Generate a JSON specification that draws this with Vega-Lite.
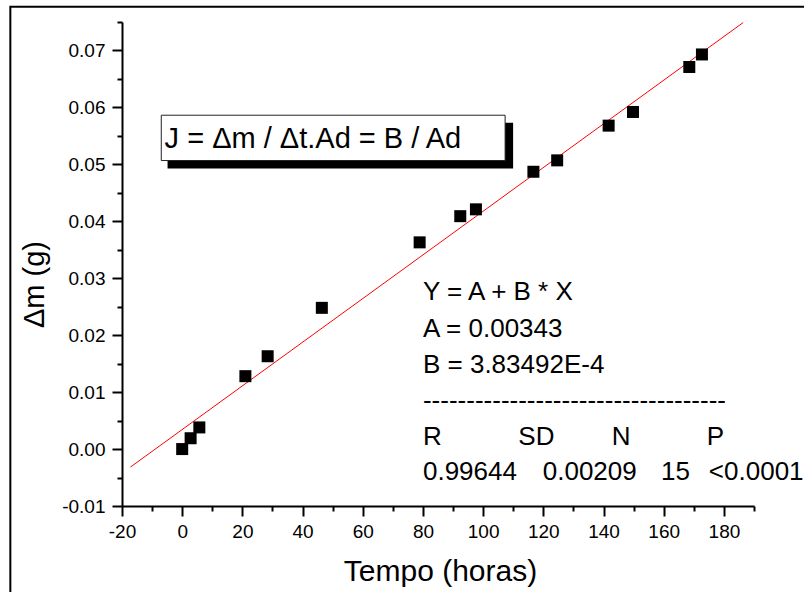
{
  "$schema": "https://vega.github.io/schema/vega-lite/v6.json",
  "width": 632,
  "height": 484,
  "autosize": {"type": "none"},
  "padding": {"left": 122, "top": 22, "right": 50, "bottom": 86},
  "background": "white",
  "config": {
    "view": {"stroke": null},
    "font": "Liberation Sans",
    "text": {"font": "Liberation Sans"}
  },
  "encoding": {
    "x": {
      "field": "x", "type": "quantitative", "title": "Tempo (horas)",
      "scale": {"domain": [-20, 190], "nice": false, "zero": false},
      "axis": {
        "values": [-20, -10, 0, 10, 20, 30, 40, 50, 60, 70, 80, 90, 100, 110, 120, 130, 140, 150, 160, 170, 180, 190],
        "labelExpr": "datum.value % 20 == 0 ? replace(datum.label, '−', '-') : ''",
        "tickSize": {"condition": {"test": "datum.value % 20 == 0", "value": 10}, "value": 5},
        "grid": false,
        "domainColor": "black", "domainWidth": 2,
        "tickColor": "black", "tickWidth": 2,
        "labelFont": "Liberation Sans", "labelFontSize": 19, "labelColor": "black",
        "labelPadding": 6, "labelFlush": false, "labelOverlap": false,
        "titleFont": "Liberation Sans", "titleFontSize": 30, "titleFontWeight": "normal", "titleColor": "black",
        "titleX": 318, "titleY": 74, "titleBaseline": "alphabetic", "titleAlign": "center"
      }
    },
    "y": {
      "field": "y", "type": "quantitative", "title": "Δm (g)",
      "scale": {"domain": [-0.01, 0.075], "nice": false, "zero": false},
      "axis": {
        "values": [-0.01, -0.005, 0, 0.005, 0.01, 0.015, 0.02, 0.025, 0.03, 0.035, 0.04, 0.045, 0.05, 0.055, 0.06, 0.065, 0.07, 0.075],
        "labelExpr": "round(datum.value * 1000) % 10 == 0 ? replace(format(datum.value, '.2f'), '−', '-') : ''",
        "tickSize": {"condition": {"test": "round(datum.value * 1000) % 10 == 0", "value": 10}, "value": 5},
        "grid": false,
        "domainColor": "black", "domainWidth": 2,
        "tickColor": "black", "tickWidth": 2,
        "labelFont": "Liberation Sans", "labelFontSize": 19, "labelColor": "black",
        "labelPadding": 7, "labelFlush": false, "labelOverlap": false,
        "titleFont": "Liberation Sans", "titleFontSize": 29, "titleFontWeight": "normal", "titleColor": "black",
        "titleX": -79, "titleY": 262, "titleBaseline": "alphabetic", "titleAlign": "center", "titleAngle": 270
      }
    }
  },
  "layer": [
    {
      "data": {"values": [{"x": -57.1, "x2": 400, "y": 0.0777, "y2": -0.06}]},
      "mark": {"type": "rect", "fill": null, "stroke": "black", "strokeWidth": 2, "clip": false},
      "encoding": {"x2": {"field": "x2"}, "y2": {"field": "y2"}}
    },
    {
      "data": {"values": [{"x": -4.86, "x2": 109.96, "y": 0.0573, "y2": 0.04927}]},
      "mark": {"type": "rect", "fill": "black", "stroke": null},
      "encoding": {"x2": {"field": "x2"}, "y2": {"field": "y2"}}
    },
    {
      "data": {"values": [{"x": -6.95, "x2": 107.3, "y": 0.05863, "y2": 0.05067}]},
      "mark": {"type": "rect", "fill": "white", "stroke": "#222222", "strokeWidth": 1},
      "encoding": {"x2": {"field": "x2"}, "y2": {"field": "y2"}}
    },
    {
      "data": {"values": [{"x": -5.85, "y": 0.0529, "text": "J = Δm / Δt.Ad = B / Ad"}]},
      "mark": {"type": "text", "align": "left", "baseline": "alphabetic", "fontSize": 29, "color": "black", "font": "Liberation Sans"},
      "encoding": {"text": {"field": "text"}}
    },
    {
      "data": {"values": [{"x": -17.2, "y": -0.00317}, {"x": 186.4, "y": 0.0749}]},
      "mark": {"type": "line", "color": "#ff0000", "strokeWidth": 1},
      "encoding": {}
    },
    {
      "data": {"values": [
        {"x": 0, "y": 0}, {"x": 2.8, "y": 0.0019}, {"x": 5.7, "y": 0.0038}, {"x": 21.0, "y": 0.0128},
        {"x": 28.4, "y": 0.0163}, {"x": 46.4, "y": 0.0248}, {"x": 78.9, "y": 0.0363}, {"x": 92.4, "y": 0.0409},
        {"x": 97.6, "y": 0.0421}, {"x": 116.7, "y": 0.0487}, {"x": 124.6, "y": 0.0507}, {"x": 141.7, "y": 0.0568},
        {"x": 149.8, "y": 0.0592}, {"x": 168.5, "y": 0.0671}, {"x": 172.7, "y": 0.0693}
      ]},
      "mark": {"type": "point", "shape": "square", "filled": true, "size": 144, "color": "black", "opacity": 1},
      "encoding": {}
    },
    {
      "data": {"values": [
        {"x": 80, "y": 0.02624, "text": "Y = A + B * X"},
        {"x": 80, "y": 0.01968, "text": "A = 0.00343"},
        {"x": 80, "y": 0.01336, "text": "B = 3.83492E-4"},
        {"x": 80, "y": 0.00696, "text": "-----------------------------------"},
        {"x": 80, "y": 0.00076, "text": "R"},
        {"x": 111.7, "y": 0.00076, "text": "SD"},
        {"x": 142.7, "y": 0.00076, "text": "N"},
        {"x": 174.3, "y": 0.00076, "text": "P"},
        {"x": 80, "y": -0.0054, "text": "0.99644"},
        {"x": 119.8, "y": -0.0054, "text": "0.00209"},
        {"x": 159.1, "y": -0.0054, "text": "15"},
        {"x": 175.0, "y": -0.0054, "text": "<0.0001"}
      ]},
      "mark": {"type": "text", "align": "left", "baseline": "alphabetic", "fontSize": 26, "color": "black", "font": "Liberation Sans", "clip": false},
      "encoding": {"text": {"field": "text"}}
    }
  ]
}
